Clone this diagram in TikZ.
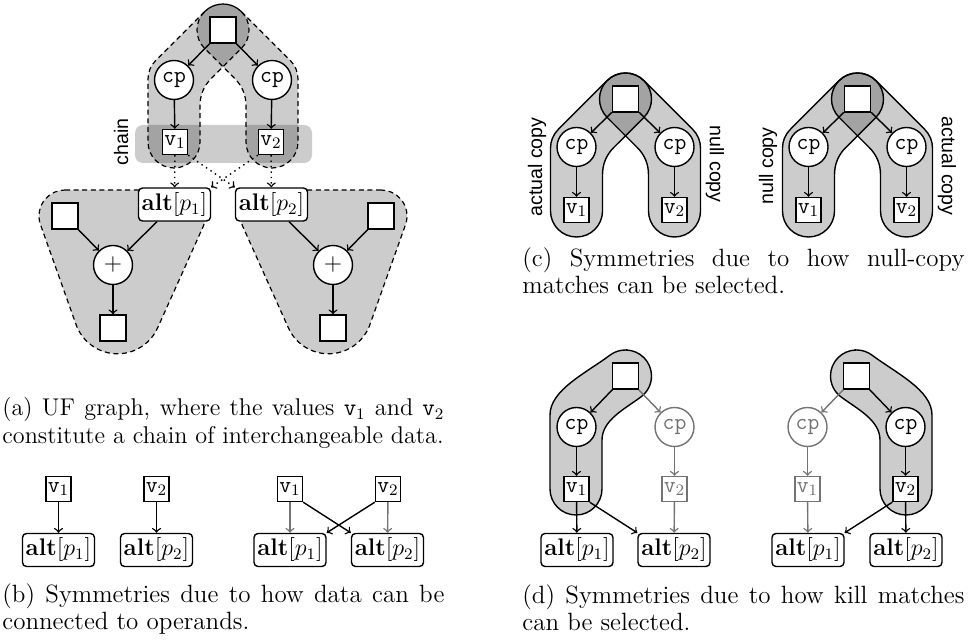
\documentclass[tikz,border=0pt]{standalone}
\usepackage{fontspec}
\usepackage{xcolor}
\usepackage{tikz}

\newfontfamily\labelfont{Liberation Sans}
\definecolor{ghostgray}{gray}{0.45}

% hull outlines, drawn round the top value at (0,0)
\newcommand{\archpath}{(225:26) -- (-67.38,30.62) arc[start angle=225, end angle=180, radius=26]
  -- (-75,112) arc[start angle=180, end angle=0, radius=26]
  -- (-23,75.76) .. controls (-23,65.09) and (-19.23,55.99) .. (-11.69,48.45)
  -- (45:26) arc[start angle=45, end angle=-135, radius=26] -- cycle}
\newcommand{\bentpath}{(0,-26) arc[start angle=-90, end angle=53.1, radius=26]
  .. controls (-0.4,32.8) and (-23.5,44) .. (-23.5,64)
  -- (-23.5,113) arc[start angle=0, end angle=180, radius=26]
  -- (-75.5,39) .. controls (-75.5,14) and (-39.6,-2.8) .. (-15.6,-20.8)
  arc[start angle=233.1, end angle=270, radius=26] -- cycle}
\newcommand{\wedgepath}{(-158,190) -- (-43.6,190) arc[start angle=-90, end angle=24.1, radius=26]
  -- (-65.34,327.77) arc[start angle=24.1, end angle=161.3, radius=44]
  -- (-182.63,224.34) arc[start angle=161.3, end angle=270, radius=26] -- cycle}

\begin{document}
\begin{tikzpicture}[
        x=0.5pt, y=-0.5pt,
        hole/.style={rectangle, draw, fill=white, line width=0.7pt, minimum size=13pt, inner sep=0pt},
        val/.style={hole, minimum size=12.5pt, font=\fontsize{11.5}{13}\ttfamily},
        op/.style={circle, draw, fill=white, line width=0.7pt, minimum size=19.5pt, inner sep=0pt, font=\fontsize{11.5}{13}\selectfont},
        alt/.style={rectangle, rounded corners=2pt, draw, fill=white, line width=0.7pt, minimum width=36pt, minimum height=16.5pt, inner sep=1.5pt, font=\fontsize{12}{14}\selectfont},
        ghost/.style={draw=ghostgray, text=ghostgray},
        flow/.style={->, line width=0.7pt},
        faded/.style={flow, draw=ghostgray},
        maybe/.style={flow, dotted},
        hull/.style={fill=black, fill opacity=0.2},
        hulldash/.style={hull, draw, line width=0.6pt, dash pattern=on 2.5pt off 1.8pt},
        hullline/.style={hull, draw, line width=0.7pt},
        lbl/.style={font=\fontsize{9.8}{12}\labelfont, inner sep=0pt},
        caption/.style={anchor=north west, inner sep=0pt, text width=221pt, align=justify, font=\fontsize{12.5}{13.75}\selectfont},
    ]
        \useasboundingbox (0,0) rectangle (970,640);

        % (a) hulls
        \fill[hull, rounded corners=4pt] (135,125) rectangle (312,163);
        \begin{scope}[shift={(223,30)}]
            \draw[hulldash] \archpath;
        \end{scope}
        \begin{scope}[shift={(223,30)}, xscale=-1]
            \draw[hulldash] \archpath;
        \end{scope}
        \begin{scope}[shift={(223,0)}]
            \draw[hulldash] \wedgepath;
        \end{scope}
        \begin{scope}[shift={(223,0)}, xscale=-1]
            \draw[hulldash] \wedgepath;
        \end{scope}
        \node[lbl, rotate=90] (chain) at (121,142) {chain};

        % (a) nodes
        \node[hole] (a-top) at (223,30) {};
        \node[op] (a-cp1) at (174,80) {\texttt{cp}};
        \node[op] (a-cp2) at (272,80) {\texttt{cp}};
        \node[val] (a-v1) at (175,142) {v$_1$};
        \node[val] (a-v2) at (271,142) {v$_2$};
        \node[alt] (a-alt1) at (174.5,204.5) {\textbf{alt}[$p_1$]};
        \node[alt] (a-alt2) at (271.5,204.5) {\textbf{alt}[$p_2$]};
        \node[hole] (a-in1) at (65,216) {};
        \node[hole] (a-in2) at (381,216) {};
        \node[op] (a-add1) at (113,265) {$+$};
        \node[op] (a-add2) at (333,265) {$+$};
        \node[hole] (a-out1) at (113,328) {};
        \node[hole] (a-out2) at (333,328) {};

        % (a) flow
        \draw[flow] (a-top) -- (a-cp1);
        \draw[flow] (a-top) -- (a-cp2);
        \draw[flow] (a-cp1) -- (a-v1);
        \draw[flow] (a-cp2) -- (a-v2);
        \draw[maybe] (a-v1) -- (a-alt1);
        \draw[maybe] (a-v1.south east) -- (a-alt2.north west);
        \draw[maybe] (a-v2.south west) -- (a-alt1.north east);
        \draw[maybe] (a-v2) -- (a-alt2);
        \draw[flow] (a-in1) -- (a-add1);
        \draw[flow] (a-alt1) -- (a-add1);
        \draw[flow] (a-add1) -- (a-out1);
        \draw[flow] (a-in2) -- (a-add2);
        \draw[flow] (a-alt2) -- (a-add2);
        \draw[flow] (a-add2) -- (a-out2);

        \node[caption, font=\fontsize{12.1}{13.75}\selectfont] (cap-a) at (2,397) {(a) UF graph, where the values \texttt{v}$_1$ and \texttt{v}$_2$ constitute a chain of interchangeable data.};

        % (b) nodes
        \node[val] (b-v1) at (58.5,489) {v$_1$};
        \node[alt] (b-alt1) at (58.5,550) {\textbf{alt}[$p_1$]};
        \node[val] (b-v2) at (156.5,489) {v$_2$};
        \node[alt] (b-alt2) at (156.5,550) {\textbf{alt}[$p_2$]};
        \node[val] (b-xv1) at (290,489) {v$_1$};
        \node[val] (b-xv2) at (388,489) {v$_2$};
        \node[alt] (b-xalt1) at (290,550) {\textbf{alt}[$p_1$]};
        \node[alt] (b-xalt2) at (387.5,550) {\textbf{alt}[$p_2$]};

        % (b) flow
        \draw[flow] (b-v1) -- (b-alt1);
        \draw[flow] (b-v2) -- (b-alt2);
        \draw[faded] (b-xv1) -- (b-xalt1);
        \draw[faded] (b-xv2) -- (b-xalt2);
        \draw[flow] (b-xv1.south east) -- (b-xalt2.north west);
        \draw[flow] (b-xv2.south west) -- (b-xalt1.north east);

        \node[caption] (cap-b) at (2,583) {(b) Symmetries due to how data can be connected to operands.};

        % (c) hulls
        \begin{scope}[shift={(625.5,99)}]
            \draw[hullline] \archpath;
        \end{scope}
        \begin{scope}[shift={(625.5,99)}, xscale=-1]
            \draw[hullline] \archpath;
        \end{scope}
        \begin{scope}[shift={(857.5,99)}]
            \draw[hullline] \archpath;
        \end{scope}
        \begin{scope}[shift={(857.5,99)}, xscale=-1]
            \draw[hullline] \archpath;
        \end{scope}
        \node[lbl, rotate=90] (cl-actual) at (537,167) {actual copy};
        \node[lbl, rotate=-90] (cl-null) at (715,164) {null copy};
        \node[lbl, rotate=90] (cr-null) at (768,166) {null copy};
        \node[lbl, rotate=-90] (cr-actual) at (947,166) {actual copy};

        % (c) nodes
        \node[hole] (cl-top) at (625.5,99) {};
        \node[op] (cl-cp1) at (576.5,147) {\texttt{cp}};
        \node[op] (cl-cp2) at (674.5,147) {\texttt{cp}};
        \node[val] (cl-v1) at (576.5,210) {v$_1$};
        \node[val] (cl-v2) at (674.5,210) {v$_2$};
        \node[hole] (cr-top) at (857.5,99) {};
        \node[op] (cr-cp1) at (808.5,147) {\texttt{cp}};
        \node[op] (cr-cp2) at (906.5,147) {\texttt{cp}};
        \node[val] (cr-v1) at (808.5,210) {v$_1$};
        \node[val] (cr-v2) at (906.5,210) {v$_2$};

        % (c) flow
        \draw[flow] (cl-top) -- (cl-cp1);
        \draw[flow] (cl-top) -- (cl-cp2);
        \draw[flow] (cl-cp1) -- (cl-v1);
        \draw[flow] (cl-cp2) -- (cl-v2);
        \draw[flow] (cr-top) -- (cr-cp1);
        \draw[flow] (cr-top) -- (cr-cp2);
        \draw[flow] (cr-cp1) -- (cr-v1);
        \draw[flow] (cr-cp2) -- (cr-v2);

        \node[caption] (cap-c) at (522,247) {(c) Symmetries due to how null-copy matches can be selected.};

        % (d) hulls
        \begin{scope}[shift={(625.5,376)}]
            \draw[hullline] \bentpath;
        \end{scope}
        \begin{scope}[shift={(856.5,376)}, xscale=-1]
            \draw[hullline] \bentpath;
        \end{scope}

        % (d) nodes
        \node[hole] (dl-top) at (625.5,376) {};
        \node[op] (dl-cp1) at (576.5,427) {\texttt{cp}};
        \node[op, ghost] (dl-cp2) at (674.5,427) {\texttt{cp}};
        \node[val] (dl-v1) at (576.5,489) {v$_1$};
        \node[val, ghost] (dl-v2) at (674.5,489) {v$_2$};
        \node[alt] (dl-alt1) at (577,550) {\textbf{alt}[$p_1$]};
        \node[alt] (dl-alt2) at (674,550) {\textbf{alt}[$p_2$]};
        \node[hole] (dr-top) at (856.5,376) {};
        \node[op, ghost] (dr-cp1) at (807.5,427) {\texttt{cp}};
        \node[op] (dr-cp2) at (905.5,427) {\texttt{cp}};
        \node[val, ghost] (dr-v1) at (807.5,489) {v$_1$};
        \node[val] (dr-v2) at (905.5,489) {v$_2$};
        \node[alt] (dr-alt1) at (808,550) {\textbf{alt}[$p_1$]};
        \node[alt] (dr-alt2) at (906,550) {\textbf{alt}[$p_2$]};

        % (d) flow
        \draw[flow] (dl-top) -- (dl-cp1);
        \draw[faded] (dl-top) -- (dl-cp2);
        \draw[flow] (dl-cp1) -- (dl-v1);
        \draw[faded] (dl-cp2) -- (dl-v2);
        \draw[flow] (dl-v1) -- (dl-alt1);
        \draw[flow] (dl-v1.south east) -- (dl-alt2.north west);
        \draw[faded] (dl-v2) -- (dl-alt2);
        \draw[faded] (dr-top) -- (dr-cp1);
        \draw[flow] (dr-top) -- (dr-cp2);
        \draw[faded] (dr-cp1) -- (dr-v1);
        \draw[flow] (dr-cp2) -- (dr-v2);
        \draw[faded] (dr-v1) -- (dr-alt1);
        \draw[flow] (dr-v2.south west) -- (dr-alt1.north east);
        \draw[flow] (dr-v2) -- (dr-alt2);

        \node[caption] (cap-d) at (522,584) {(d) Symmetries due to how kill matches can be selected.};
    \end{tikzpicture}
\end{document}
